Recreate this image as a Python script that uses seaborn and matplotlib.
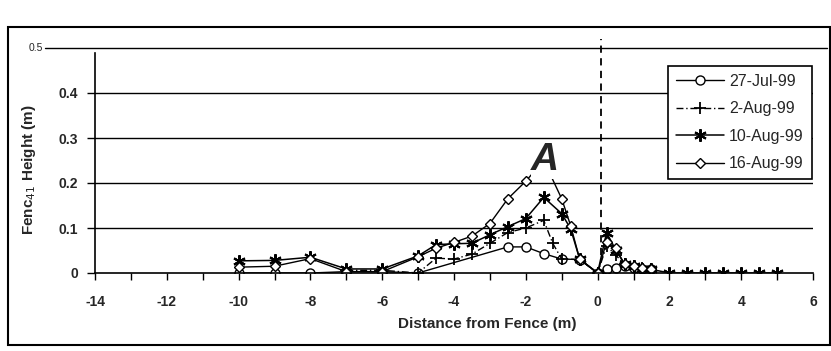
import numpy as np
import pandas as pd
import seaborn as sns
import matplotlib.pyplot as plt
from matplotlib.patches import Rectangle
from matplotlib.ticker import MultipleLocator

# Values (distance in m, height in m)
dates = ["27-Jul-99", "2-Aug-99", "10-Aug-99", "16-Aug-99"]

jul27_x = [-10, -9, -8, -7, -6, -5, -2.5, -2, -1.5, -1, -0.5, 0, 0.25, 0.5, 0.75, 1, 1.25, 1.5]
jul27_y = [0, 0, 0, 0.003, 0.003, 0, 0.058, 0.058, 0.043, 0.031, 0.03, 0, 0.01, 0.012, 0.015, 0.012, 0.01, 0.01]

aug2_x = [-7, -6, -5, -4.5, -4, -3.5, -3, -2.5, -2, -1.5, -1.25, -1, -0.5, 0,
          0.25, 0.5, 0.75, 1, 1.25, 1.5]
aug2_y = [0.006, 0.006, 0, 0.033, 0.031, 0.042, 0.066, 0.09, 0.1, 0.117, 0.066, 0.031, 0.03, 0,
          0.06, 0.04, 0.02, 0.015, 0.012, 0.01]

aug10_x = [-10, -9, -8, -7, -6, -5, -4.5, -4, -3.5, -3, -2.5, -2, -1.5, -1, -0.75, -0.5, 0,
           0.25, 0.5, 0.75, 1, 1.25, 1.5, 2, 2.5, 3, 3.5, 4, 4.5, 5]
aug10_y = [0.027, 0.028, 0.035, 0.009, 0.009, 0.038, 0.063, 0.065, 0.066, 0.085, 0.103, 0.121, 0.168,
           0.132, 0.098, 0.031, 0, 0.09, 0.052, 0.02, 0.015, 0.01, 0.008, 0, 0, 0, 0, 0, 0, 0]

aug16_x = [-10, -9, -8, -7, -6, -5, -4.5, -4, -3.5, -3, -2.5, -2, -1.5, -1, -0.75, -0.5, 0,
           0.25, 0.5, 0.75, 1, 1.25, 1.5]
aug16_y = [0.013, 0.015, 0.032, 0.003, 0.003, 0.036, 0.055, 0.068, 0.082, 0.11, 0.165, 0.204, 0.25,
           0.165, 0.105, 0.031, 0, 0.07, 0.055, 0.02, 0.015, 0.012, 0.01]

yticks = [0, 0.1, 0.2, 0.3, 0.4]
ytick_labels = ["0", "0.1", "0.2", "0.3", "0.4"]
xticks = [-14, -12, -10, -8, -6, -4, -2, 0, 2, 4, 6]

xs = [jul27_x, aug2_x, aug10_x, aug16_x]
ys = [jul27_y, aug2_y, aug10_y, aug16_y]
df = pd.concat(
    [pd.DataFrame({"dist": x, "height": y, "date": d}) for x, y, d in zip(xs, ys, dates)],
    ignore_index=True,
)

# line / marker look per date
styles = {
    "27-Jul-99": dict(marker="o", markersize=6.5, markerfacecolor="white", markeredgewidth=1.0,
                      linestyle="-", linewidth=1.0),
    "2-Aug-99": dict(marker="+", markersize=9, markeredgewidth=1.3,
                     linestyle=(0, (5, 2, 1, 2)), linewidth=1.0),
    "10-Aug-99": dict(marker=(6, 2, 0), markersize=9, markeredgewidth=1.5,
                      linestyle="-", linewidth=1.1),
    "16-Aug-99": dict(marker="D", markersize=5, markerfacecolor="white", markeredgewidth=1.0,
                      linestyle="-", linewidth=1.0),
}

sns.set_theme(style="white")
plt.rcParams["font.family"] = ["Liberation Sans", "DejaVu Sans"]

fig = plt.figure(figsize=(8.31, 3.51), dpi=100)
ax = fig.add_axes([95 / 831, 78 / 351, 718 / 831, 225 / 351])

for d in dates:
    sub = df[df["date"] == d]
    sns.lineplot(data=sub, x="dist", y="height", ax=ax, color="black", label=d,
                 estimator=None, sort=False, markeredgecolor="black", **styles[d])

ax.set_xlim(-14, 6)
ax.set_ylim(0, 0.5)

# horizontal gridlines, the 0.5 one runs past the axes
for v in yticks[1:]:
    ax.axhline(v, color="black", lw=1.0, zorder=0)
ax.axhline(0.5, xmin=-0.07, xmax=1.02, color="black", lw=1.0, clip_on=False, zorder=0)
ax.text(-0.072, 0.5, "0.5", transform=ax.get_yaxis_transform(), ha="right", va="center",
        fontsize=7.5)

# fence position
ax.plot([0.1, 0.1], [0.04, 0.52], color="black", lw=1.3, ls=(0, (4, 3)), clip_on=False)

ax.text(-1.46, 0.25, "A", fontsize=28, fontweight="bold", style="italic",
        ha="center", va="center", zorder=6,
        bbox=dict(facecolor="white", edgecolor="none", pad=0))

ax.set_xticks(xticks)
ax.set_xticklabels([str(t) for t in xticks], fontweight="bold", fontsize=10)
ax.xaxis.set_minor_locator(MultipleLocator(1))
ax.tick_params(axis="x", which="both", direction="out", length=5, width=1, pad=11,
               bottom=True, color="black")
ax.set_yticks(yticks)
ax.set_yticklabels(ytick_labels, fontweight="bold", fontsize=10)
ax.tick_params(axis="y", direction="out", length=6, width=1, pad=6, left=True, color="black")

for s in ["top", "right"]:
    ax.spines[s].set_visible(False)
for s in ["left", "bottom"]:
    ax.spines[s].set_color("black")
    ax.spines[s].set_linewidth(1.2)
ax.spines["left"].set_bounds(0, 0.49)

ax.set_xlabel("Distance from Fence (m)", fontsize=11, fontweight="bold")
ax.xaxis.set_label_coords(0.546, -0.195)
ax.set_ylabel("Fenc$_{41}$ Height (m)", fontsize=11, fontweight="bold")
ax.yaxis.set_label_coords(-0.08, 0.46)

leg = ax.legend(loc="upper right", bbox_to_anchor=(0.998, 0.92), frameon=True,
                fancybox=False, edgecolor="black", framealpha=1, fontsize=11.5,
                labelspacing=0.78, borderpad=0.5, handlelength=3.0, handletextpad=0.3,
                borderaxespad=0)
leg.get_frame().set_linewidth(1.2)

# outer frame of the scanned figure
fig.add_artist(Rectangle((8 / 831, 6 / 351), 822 / 831, 318 / 351, transform=fig.transFigure,
                         fill=False, lw=1.5, edgecolor="black"))

fig.savefig("out.png", dpi=100)
